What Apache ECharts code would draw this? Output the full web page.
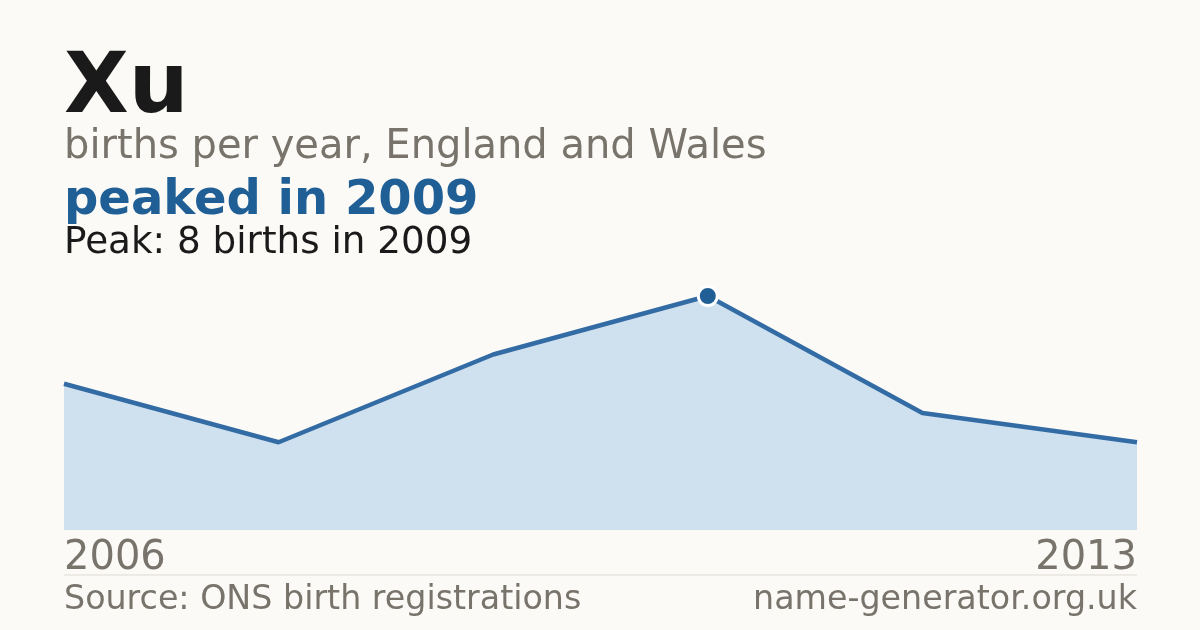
<!DOCTYPE html>
<html>
<head>
<meta charset="utf-8">
<script src="https://cdn.jsdelivr.net/npm/echarts@6/dist/echarts.min.js"></script>
<style>
  html, body { margin: 0; padding: 0; background: #fbfaf6; }
  #chart { width: 1200px; height: 630px; }
</style>
</head>
<body>
<div id="chart"></div>
<script>
// 数据
var years = ['2006', '2007', '2008', '2009', '2012', '2013'];
var births = [5, 3, 6, 8, 4, 3];
var peakIndex = 3;

var FONT = '"DejaVu Sans", Verdana, sans-serif';
var GREY = '#78746c';
var BLUE = '#1f5f96';

var seriesData = births.map(function (v, i) {
  if (i === peakIndex) {
    return {
      value: v,
      symbol: 'circle',
      symbolSize: 19,
      itemStyle: { color: BLUE, borderColor: '#ffffff', borderWidth: 3 }
    };
  }
  return { value: v, symbol: 'none' };
});

var myChart = echarts.init(document.getElementById('chart'));
var option = {
  backgroundColor: '#fbfaf6',
  animation: false,
  grid: { left: 64, right: 63, top: 296, bottom: 100 },
  xAxis: {
    type: 'category',
    boundaryGap: false,
    data: years,
    axisLine: { show: false },
    axisTick: { show: false },
    axisLabel: {
      interval: function (i) { return i === 0 || i === years.length - 1; },
      alignMinLabel: 'left',
      alignMaxLabel: 'right',
      color: GREY,
      fontFamily: FONT,
      fontSize: 40,
      margin: 9
    }
  },
  yAxis: {
    type: 'value',
    min: 0,
    max: 8,
    show: false,
    splitLine: { show: false }
  },
  series: [{
    type: 'line',
    data: seriesData,
    symbol: 'none',
    lineStyle: { color: '#336ca4', width: 4.5 },
    areaStyle: { color: '#cfe0ef', opacity: 1 },
    z: 3
  }],
  graphic: [
    { type: 'text', left: 64, top: 48, style: { text: 'Xu', fontFamily: FONT, fontSize: 84, fontWeight: 'bold', fill: '#1a1a1a' } },
    { type: 'text', left: 64, top: 128, style: { text: 'births per year, England and Wales', fontFamily: FONT, fontSize: 40, fill: GREY } },
    { type: 'text', left: 64, top: 178, style: { text: 'peaked in 2009', fontFamily: FONT, fontSize: 48, fontWeight: 'bold', fill: BLUE } },
    { type: 'text', left: 64, top: 225, style: { text: 'Peak: 8 births in 2009', fontFamily: FONT, fontSize: 37.3, fill: '#1a1a1a' } },
    { type: 'line', shape: { x1: 64, y1: 575, x2: 1137, y2: 575 }, style: { stroke: '#dedbd4', lineWidth: 1 } },
    { type: 'text', left: 64, top: 584, style: { text: 'Source: ONS birth registrations', fontFamily: FONT, fontSize: 33.3, fill: GREY } },
    { type: 'text', right: 63, top: 584, style: { text: 'name-generator.org.uk', fontFamily: FONT, fontSize: 33.3, fill: GREY } }
  ]
};
myChart.setOption(option);
</script>
</body>
</html>
